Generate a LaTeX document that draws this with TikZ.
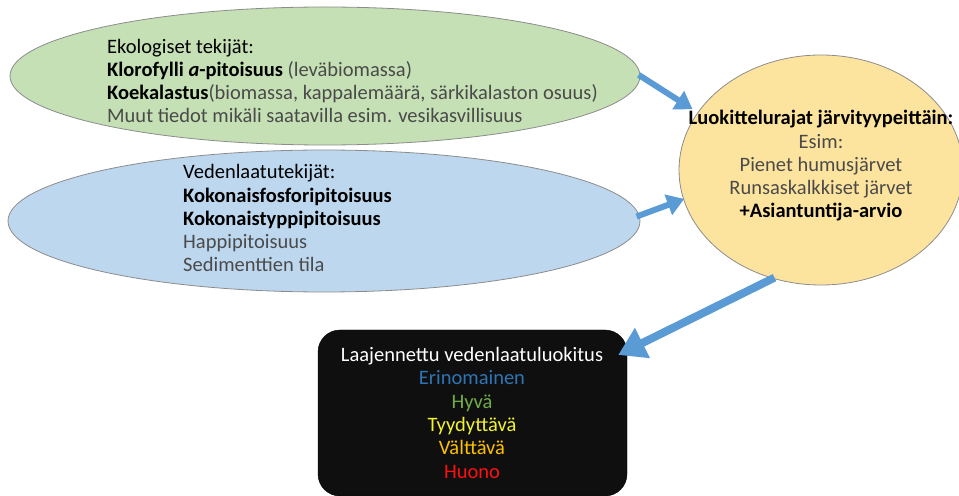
\documentclass[tikz,border=0pt]{standalone}
\usepackage{fontspec}
\setmainfont{Carlito}
\usetikzlibrary{arrows.meta,shapes.geometric,calc}
\definecolor{gfill}{HTML}{C5E0B4}
\definecolor{bfill}{HTML}{BDD7EE}
\definecolor{yfill}{HTML}{FDE49E}
\definecolor{edgec}{HTML}{8C8C8C}
\definecolor{arrc}{HTML}{5B9BD5}
\definecolor{txtgray}{HTML}{4A4A4A}
\definecolor{cblue}{HTML}{2E75B6}
\definecolor{cgreen}{HTML}{70AD47}
\definecolor{cyellow}{HTML}{F2F230}
\definecolor{corange}{HTML}{FFC000}
\definecolor{cred}{HTML}{FF1010}
\tikzset{
  blob/.style={ellipse, draw=edgec, line width=0.8bp, inner sep=0pt},
  bodytext/.style={inner sep=0pt, font=\fontsize{20.5bp}{23.3bp}\selectfont},
  arr/.style={draw=arrc, line width=6bp, -{Triangle[length=17bp,width=21bp]}},
  bigarr/.style={draw=arrc, line width=8bp, -{Triangle[length=27bp,width=32bp]}},
}
\begin{document}
\begin{tikzpicture}[x=1bp,y=-1bp]
\useasboundingbox (0,0) rectangle (959,496);
% shapes
\node[blob, fill=gfill, minimum width=630bp, minimum height=138bp] (g) at (325,76) {};
\node[blob, fill=bfill, minimum width=632bp, minimum height=142bp] (b) at (324,221) {};
\node[blob, fill=yfill, minimum width=284bp, minimum height=230bp] (y) at (821,170) {};
\node[draw=black, fill=black!94, rounded corners=22bp, minimum width=309bp, minimum height=166bp, inner sep=0pt] (box) at (472.5,413) {};
% texts (anchored at the baseline of the last line)
\node[bodytext, anchor=base west, align=left] (gt) at (107,123) {%
Ekologiset tekijät:\\
\textbf{Klorofylli \textit{a}-pitoisuus} {\color{txtgray}(leväbiomassa)}\\
\textbf{Koekalastus}{\color{txtgray}(biomassa, kappalemäärä, särkikalaston osuus)}\\
{\color{txtgray}Muut tiedot mikäli saatavilla esim. vesikasvillisuus}};
\node[bodytext, anchor=base west, align=left] (bt) at (183,272) {%
Vedenlaatutekijät:\\
\textbf{Kokonaisfosforipitoisuus}\\
\textbf{Kokonaistyppipitoisuus}\\
{\color{txtgray}Happipitoisuus}\\
{\color{txtgray}Sedimenttien tila}};
\node[bodytext, anchor=base, align=center] (yt) at (821,218) {%
\textbf{Luokittelurajat järvityypeittäin:}\\
{\color{txtgray}Esim:}\\
{\color{txtgray}Pienet humusjärvet}\\
{\color{txtgray}Runsaskalkkiset järvet}\\
\textbf{+Asiantuntija-arvio}};
\node[bodytext, anchor=base, align=center] (boxt) at (472,478) {%
{\color{white}Laajennettu vedenlaatuluokitus}\\
{\color{cblue}Erinomainen}\\
{\color{cgreen}Hyvä}\\
{\color{cyellow}Tyydyttävä}\\
{\color{corange}Välttävä}\\
{\color{cred}Huono}};
% arrows
\draw[arr, shorten <=-2bp, shorten >=6bp] (g.east) -- (y.155);
\draw[arr, shorten <=-3bp, shorten >=-1bp] (b.1) -- (y.192);
\draw[bigarr, shorten <=-2bp, shorten >=-10bp] (y.-114) -- (box.22);
\end{tikzpicture}
\end{document}
